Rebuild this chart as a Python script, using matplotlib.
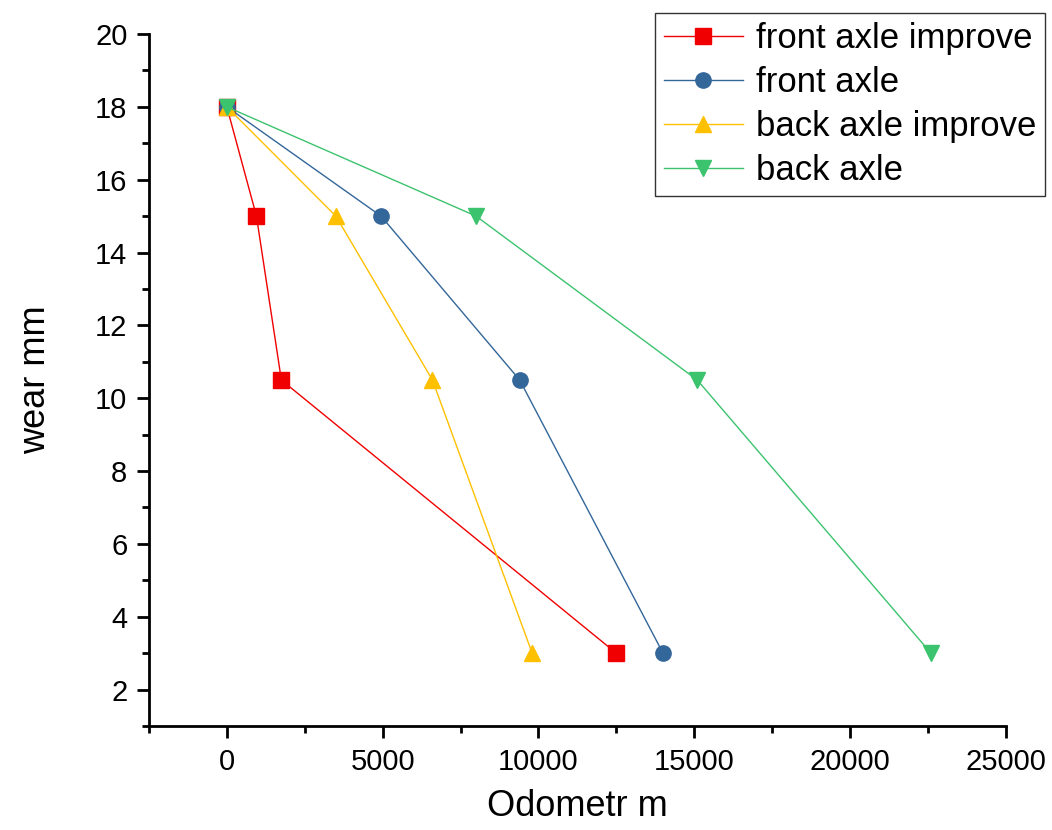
import matplotlib
matplotlib.use("Agg")
import matplotlib.pyplot as plt
from matplotlib.ticker import MultipleLocator

plt.rcParams['font.family'] = ['Liberation Sans', 'DejaVu Sans']

wear = [18, 15, 10.5, 3]
front_improve = [0, 950, 1750, 12500]
front = [0, 4950, 9400, 14000]
back_improve = [0, 3500, 6600, 9800]
back = [0, 8000, 15100, 22600]

series = [
    ("front axle improve", front_improve, '#F00000', 's'),
    ("front axle", front, '#336699', 'o'),
    ("back axle improve", back_improve, '#FFC000', '^'),
    ("back axle", back, '#3CC36E', 'v'),
]

fig = plt.figure(figsize=(10.52, 8.30), dpi=100)
ax = fig.add_axes([0.1416, 0.1253, 0.956 - 0.1416, 0.959 - 0.1253])

for name, xs, c, m in series:
    ax.plot(xs, wear, color=c, marker=m, markersize=11, linewidth=1.0,
            markeredgecolor=c, markerfacecolor=c, label=name)

ax.set_xlim(-2500, 25000)
ax.set_ylim(1, 20)
ax.xaxis.set_major_locator(MultipleLocator(5000))
ax.xaxis.set_minor_locator(MultipleLocator(2500))
ax.yaxis.set_major_locator(MultipleLocator(2))
ax.yaxis.set_minor_locator(MultipleLocator(1))
ax.set_xticks([0, 5000, 10000, 15000, 20000, 25000])
ax.set_yticks([2, 4, 6, 8, 10, 12, 14, 16, 18, 20])

for s in ['top', 'right']:
    ax.spines[s].set_visible(False)
for s in ['left', 'bottom']:
    ax.spines[s].set_linewidth(2.0)

ax.tick_params(which='major', direction='out', length=8.5, width=2.0, labelsize=21, pad=7)
ax.tick_params(which='minor', direction='out', length=5, width=2.0)

ax.set_xlabel("Odometr m", fontsize=26, labelpad=10)
ax.set_ylabel("wear mm", fontsize=26, labelpad=30)

leg = ax.legend(loc='upper right', bbox_to_anchor=(0.993, 0.984), bbox_transform=fig.transFigure,
                fontsize=25, frameon=True, fancybox=False, edgecolor='black',
                handlelength=2.3, handletextpad=0.35, labelspacing=0.32, borderpad=0.25,
                borderaxespad=0)
leg.get_frame().set_linewidth(1.0)

fig.savefig("out.png", dpi=100)
